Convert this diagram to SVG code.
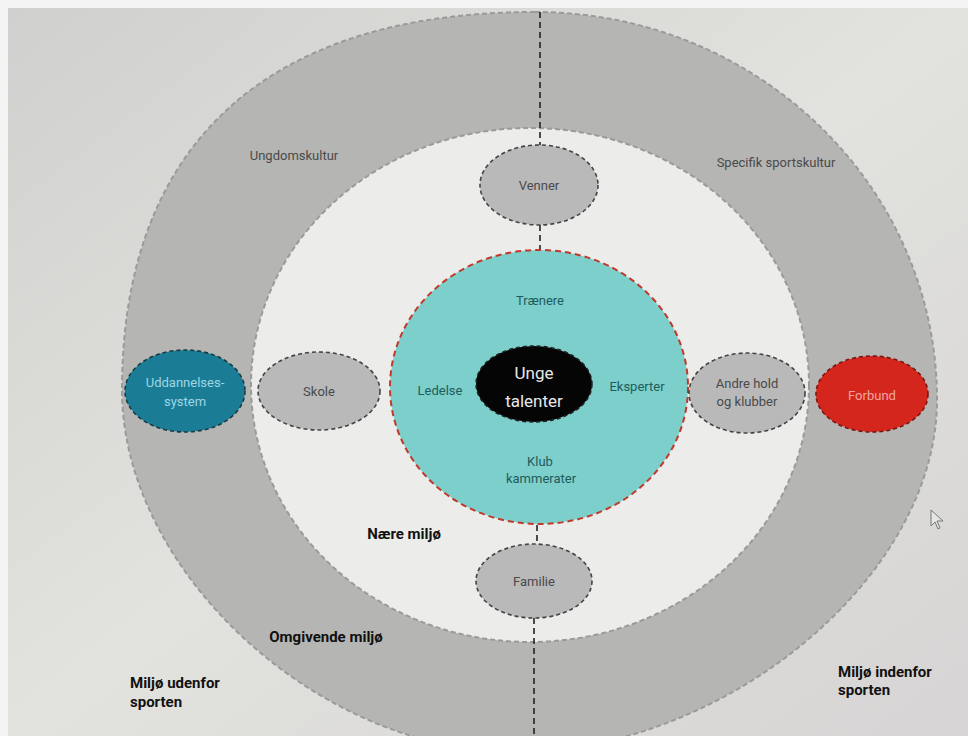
<svg xmlns="http://www.w3.org/2000/svg" width="968" height="736" viewBox="0 0 968 736">
<defs>
<linearGradient id="bg" x1="0" y1="0" x2="1" y2="1">
<stop offset="0" stop-color="#d0d0ce"/>
<stop offset="0.5" stop-color="#e2e2de"/>
<stop offset="1" stop-color="#d6d4d4"/>
</linearGradient>
</defs>
<style>
text{font-family:Roboto,"Liberation Sans",sans-serif;text-anchor:middle;dominant-baseline:central}
.lbl{font-size:13px;fill:#4a4a4a}
.teal{font-size:13px;fill:#1f5c5c}
.bold{font-size:15px;font-weight:bold;fill:#111}
.sub{fill:#b9b9b9;stroke:#444;stroke-width:1.6;stroke-dasharray:4 3}
.ring{stroke:#9a9a9a;stroke-width:2;stroke-dasharray:5 3}
</style>
<rect width="968" height="736" fill="#f4f4f4"/>
<rect x="8" y="8" width="960" height="728" fill="url(#bg)"/>
<g id="outer-ring">
<path d="M535,12 C757,12 937,186 937,400 C937,576 726,752 515,752 C318,752 122,571 122,390 C122,144 267,12 535,12 Z" fill="#b5b5b3" class="ring"/>
<text class="lbl" x="294" y="155">Ungdomskultur</text>
<text class="lbl" x="776" y="162">Specifik sportskultur</text>
<text class="bold" x="326" y="637">Omgivende miljø</text>
</g>
<g id="near-ring">
<ellipse cx="530" cy="385" rx="279" ry="257" fill="#ececea" class="ring"/>
<text class="bold" x="404" y="534">Nære miljø</text>
</g>
<g id="connectors" stroke="#222" stroke-width="1.6" stroke-dasharray="6 4" fill="none">
<line x1="540" y1="12" x2="540" y2="145"/>
<line x1="540" y1="225" x2="540" y2="250"/>
<line x1="537" y1="525" x2="537" y2="545"/>
<line x1="534" y1="618" x2="534" y2="736"/>
</g>
<g id="club">
<ellipse cx="539" cy="387" rx="149" ry="137" fill="#7ccfcb" stroke="#c0392b" stroke-width="2" stroke-dasharray="6 4"/>
<text class="teal" x="540" y="300">Trænere</text>
<text class="teal" x="440" y="390">Ledelse</text>
<text class="teal" x="637" y="386">Eksperter</text>
<text class="teal" x="540" y="461">Klub</text>
<text class="teal" x="541" y="478">kammerater</text>
</g>
<g id="unge-talenter">
<ellipse cx="534" cy="384" rx="58" ry="38" fill="#050505" stroke="#222" stroke-width="1.5" stroke-dasharray="4 3"/>
<text x="534" y="373" font-size="17" fill="#e8e8e8">Unge</text>
<text x="534" y="401" font-size="17" fill="#e8e8e8">talenter</text>
</g>
<g id="venner">
<ellipse cx="539" cy="185" rx="59" ry="40" class="sub"/>
<text class="lbl" x="539" y="185">Venner</text>
</g>
<g id="familie">
<ellipse cx="534" cy="581" rx="58" ry="37" class="sub"/>
<text class="lbl" x="534" y="581">Familie</text>
</g>
<g id="skole">
<ellipse cx="319" cy="391" rx="61" ry="39" class="sub"/>
<text class="lbl" x="319" y="391">Skole</text>
</g>
<g id="andre-hold">
<ellipse cx="747" cy="393" rx="58" ry="40" class="sub"/>
<text class="lbl" x="747" y="383">Andre hold</text>
<text class="lbl" x="747" y="401">og klubber</text>
</g>
<g id="uddannelsessystem">
<ellipse cx="185" cy="391" rx="60" ry="41" fill="#1a7d95" stroke="#1a3a44" stroke-width="1.6" stroke-dasharray="4 3"/>
<text x="185" y="382" font-size="13" fill="#9fd6e4">Uddannelses-</text>
<text x="185" y="401" font-size="13" fill="#9fd6e4">system</text>
</g>
<g id="forbund">
<ellipse cx="872" cy="394" rx="56" ry="38" fill="#d4261c" stroke="#7a1510" stroke-width="1.6" stroke-dasharray="4 3"/>
<text x="872" y="395" font-size="13" fill="#f2a6a2">Forbund</text>
</g>
<g id="outside-labels">
<text class="bold" x="130" y="683" style="text-anchor:start">Miljø udenfor</text>
<text class="bold" x="130" y="702" style="text-anchor:start">sporten</text>
<text class="bold" x="838" y="672" style="text-anchor:start">Miljø indenfor</text>
<text class="bold" x="838" y="690" style="text-anchor:start">sporten</text>
</g>
<path id="cursor" d="M931,510 L931,526 L935,522 L938,529 L940,528 L937,521 L943,521 Z" fill="#e6e6e4" stroke="#777" stroke-width="1"/>
</svg>
